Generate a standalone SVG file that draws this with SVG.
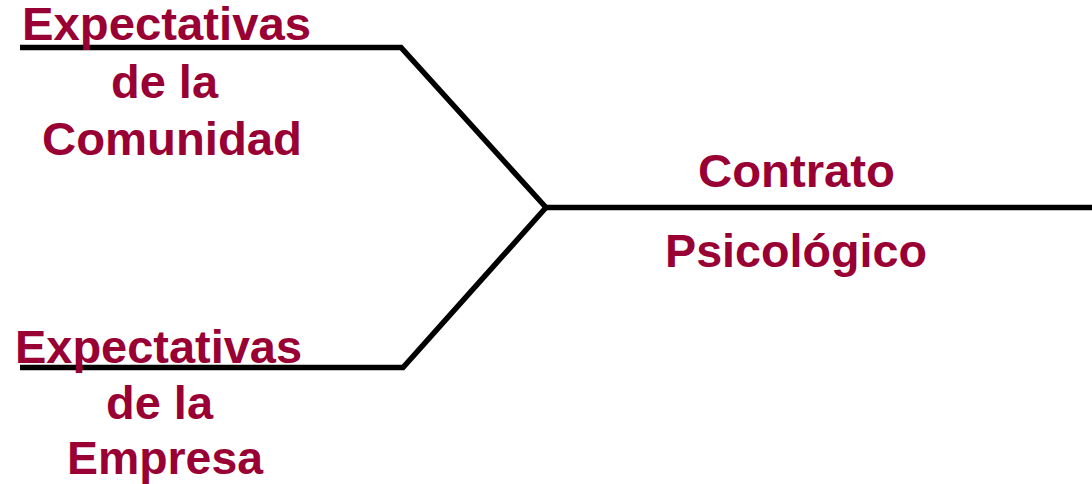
<svg xmlns="http://www.w3.org/2000/svg" width="1092" height="484" viewBox="0 0 1092 484">
<style>
.t{font-family:"Liberation Sans",Arial,sans-serif;font-weight:bold;font-size:46px;fill:#990033}
.c{fill:none;stroke:#000;stroke-width:5.5;stroke-linejoin:miter}
</style>
<rect width="1092" height="484" fill="#fff"/>
<g id="connectors">
<polyline class="c" points="20,47.5 401,47.5 546,207.5"/>
<polyline class="c" points="20,367.5 403,367.5 546,207.5"/>
<line class="c" x1="546" y1="207.5" x2="1092" y2="207.5"/>
</g>
<g id="comunidad">
<text class="t" x="22" y="40" textLength="289" lengthAdjust="spacingAndGlyphs">Expectativas</text>
<text class="t" x="111" y="97.5" textLength="107" lengthAdjust="spacingAndGlyphs">de la</text>
<text class="t" x="42" y="155" textLength="260" lengthAdjust="spacingAndGlyphs">Comunidad</text>
</g>
<g id="empresa">
<text class="t" x="15" y="363" textLength="287" lengthAdjust="spacingAndGlyphs">Expectativas</text>
<text class="t" x="106" y="419" textLength="107" lengthAdjust="spacingAndGlyphs">de la</text>
<text class="t" x="67" y="474" textLength="196" lengthAdjust="spacingAndGlyphs">Empresa</text>
</g>
<g id="contrato">
<text class="t" x="698" y="186.5" textLength="197" lengthAdjust="spacingAndGlyphs">Contrato</text>
<text class="t" x="665" y="267" textLength="262" lengthAdjust="spacingAndGlyphs">Psicológico</text>
</g>
</svg>
